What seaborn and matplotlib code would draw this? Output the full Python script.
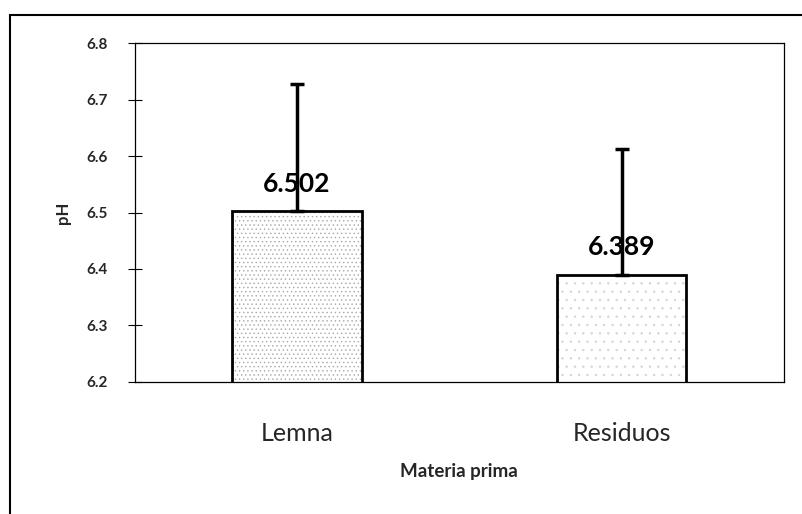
import matplotlib
matplotlib.use("Agg")
import matplotlib.pyplot as plt
import seaborn as sns
import pandas as pd
from matplotlib.patches import Rectangle

categories = ["Lemna", "Residuos"]
values = [6.502, 6.389]
errors = [0.225, 0.224]
value_labels = ["6.502", "6.389"]
y_ticks = [6.2, 6.3, 6.4, 6.5, 6.6, 6.7, 6.8]

sns.set_theme(style="white")
plt.rcParams['font.family'] = ['Lato', 'DejaVu Sans']
plt.rcParams['hatch.linewidth'] = 0.5

df = pd.DataFrame({"cat": categories, "val": values})

fig = plt.figure(figsize=(8.03, 5.14), dpi=100)
ax = fig.add_axes([0.168, 0.257, 0.808, 0.659])

# stipple layer: hatch drawn in light grey via edgecolor
sns.barplot(data=df, x="cat", y="val", ax=ax, width=0.4, color="white",
            linewidth=0, errorbar=None)
hatches = ['....', '..']
hatch_colors = ['#a8a8a8', '#d4d4d4']
for patch, h, hc in zip(ax.patches, hatches, hatch_colors):
    patch.set_hatch(h)
    patch.set_edgecolor(hc)
    patch.set_linewidth(0)

# outline layer
sns.barplot(data=df, x="cat", y="val", ax=ax, width=0.4, fill=False,
            edgecolor="black", linewidth=2.0, errorbar=None)

xs = list(range(len(categories)))
ax.errorbar(xs, values, yerr=[[0, 0], errors], fmt='none', ecolor='black',
            elinewidth=2.5, capsize=5, capthick=2.5, zorder=5)

for x, v, lab in zip(xs, values, value_labels):
    ax.annotate(lab, xy=(x, v), xytext=(0, 20), textcoords='offset points',
                ha='center', va='center', fontsize=19, fontweight='bold',
                color='black', zorder=6)

ax.set_ylim(6.2, 6.8)
ax.set_xlim(-0.5, 1.5)
ax.set_yticks(y_ticks)
ax.set_yticklabels([f"{t:.1f}" for t in y_ticks], fontsize=11, fontweight='bold')
ax.set_xticks(xs)
ax.set_xticklabels(categories, fontsize=18)
ax.set_xticks([-0.5, 0.5, 1.5], minor=True)
ax.tick_params(axis='x', which='major', length=0, pad=29)
ax.tick_params(axis='x', which='minor', length=10, direction='inout', width=0.8, color='black')
ax.tick_params(axis='y', which='major', length=10, direction='inout', width=0.8,
               color='black', pad=14.5, left=True)

ax.set_xlabel("Materia prima", fontsize=13.5, fontweight='bold', labelpad=13)
ax.set_ylabel("pH", fontsize=12, fontweight='bold', labelpad=11)

for s in ax.spines.values():
    s.set_visible(True)
    s.set_color('black')
    s.set_linewidth(0.9)

frame = Rectangle((10 / 803, -0.02), 1.02, (514 - 15) / 514 + 0.02,
                  transform=fig.transFigure, fill=False, edgecolor='black',
                  linewidth=1.5, clip_on=False)
fig.add_artist(frame)

fig.savefig("out.png", dpi=100)
